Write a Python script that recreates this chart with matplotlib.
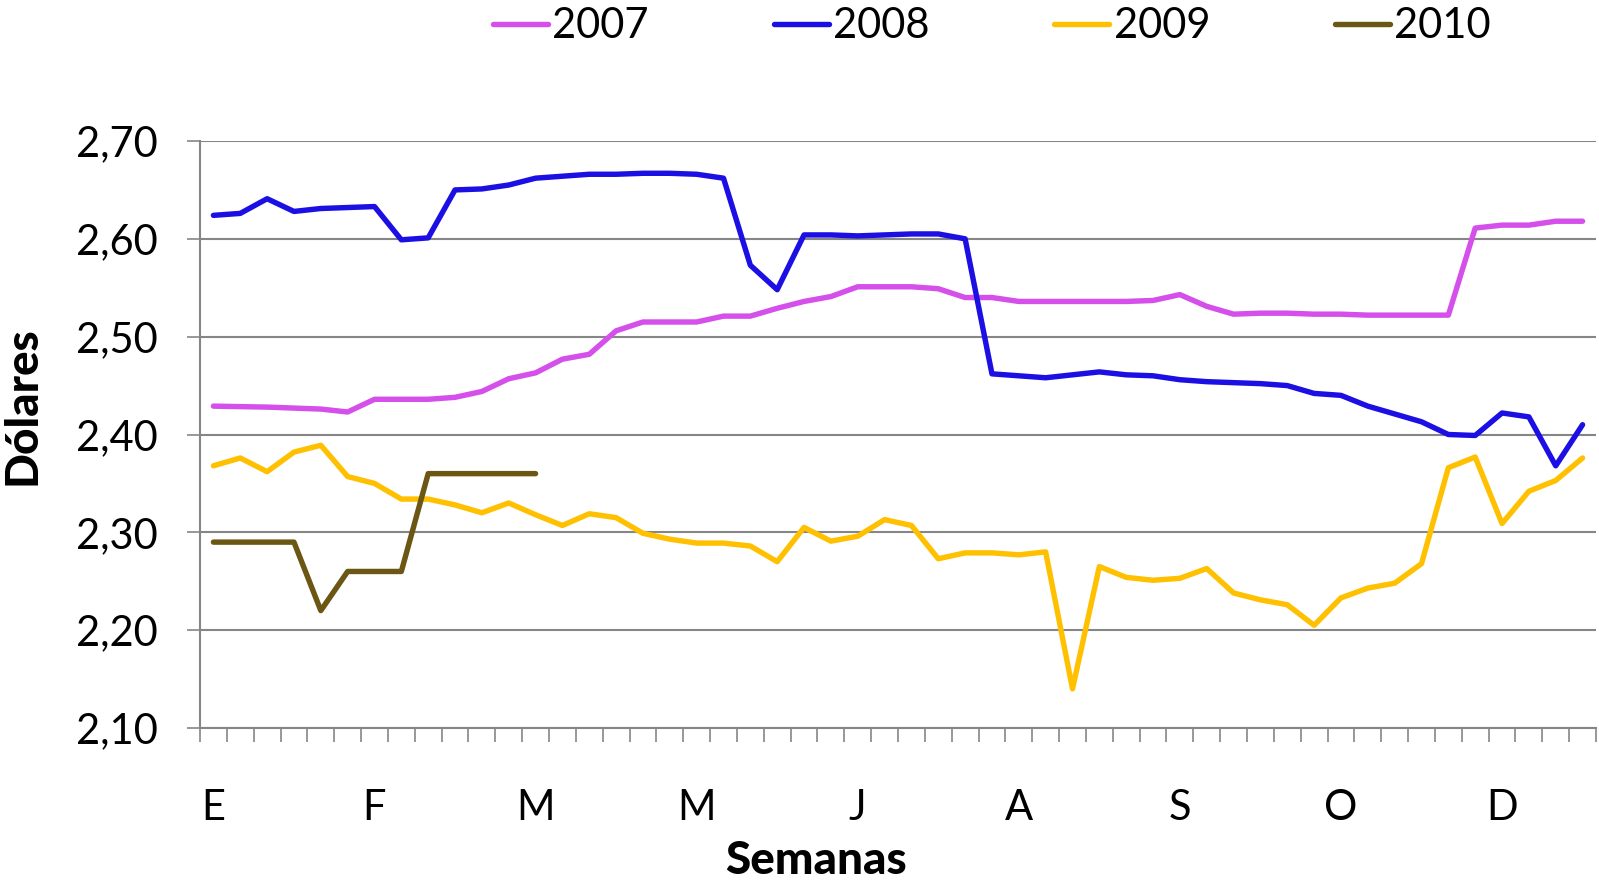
import matplotlib
matplotlib.use("Agg")
import matplotlib.pyplot as plt
import numpy as np

# ---- data ----
years = ["2007", "2008", "2009", "2010"]
v2007 = [2.429, 2.4285, 2.428, 2.427, 2.426, 2.423, 2.436, 2.436, 2.436, 2.438, 2.444, 2.457, 2.463,
         2.477, 2.482, 2.506, 2.515, 2.515, 2.515, 2.521, 2.521, 2.529, 2.536, 2.541, 2.551, 2.551,
         2.551, 2.549, 2.540, 2.540, 2.536, 2.536, 2.536, 2.536, 2.536, 2.537, 2.543, 2.531, 2.523,
         2.524, 2.524, 2.523, 2.523, 2.522, 2.522, 2.522, 2.522, 2.611, 2.614, 2.614, 2.618, 2.618]
v2008 = [2.624, 2.626, 2.641, 2.628, 2.631, 2.632, 2.633, 2.599, 2.601, 2.650, 2.651, 2.655, 2.662,
         2.664, 2.666, 2.666, 2.667, 2.667, 2.666, 2.662, 2.573, 2.548, 2.604, 2.604, 2.603, 2.604,
         2.605, 2.605, 2.600, 2.462, 2.460, 2.458, 2.461, 2.464, 2.461, 2.460, 2.456, 2.454, 2.453,
         2.452, 2.450, 2.442, 2.440, 2.429, 2.421, 2.413, 2.400, 2.399, 2.422, 2.418, 2.368, 2.410]
v2009 = [2.368, 2.376, 2.362, 2.382, 2.389, 2.357, 2.350, 2.334, 2.334, 2.328, 2.320, 2.330, 2.318,
         2.307, 2.319, 2.315, 2.299, 2.293, 2.289, 2.289, 2.286, 2.270, 2.305, 2.291, 2.296, 2.313,
         2.307, 2.273, 2.279, 2.279, 2.277, 2.280, 2.140, 2.265, 2.254, 2.251, 2.253, 2.263, 2.238,
         2.231, 2.226, 2.205, 2.233, 2.243, 2.248, 2.268, 2.366, 2.377, 2.309, 2.342, 2.353, 2.376]
v2010 = [2.29, 2.29, 2.29, 2.29, 2.22, 2.26, 2.26, 2.26, 2.36, 2.36, 2.36, 2.36, 2.36]

month_labels = ["E", "F", "M", "M", "J", "A", "S", "O", "D"]
month_pos = [0, 6, 12, 18, 24, 30, 36, 42, 48]
y_ticks = [2.10, 2.20, 2.30, 2.40, 2.50, 2.60, 2.70]
y_labels = ["2,10", "2,20", "2,30", "2,40", "2,50", "2,60", "2,70"]
n_weeks = 52

colors = ["#D54FEA", "#1C0FE4", "#FFC000", "#6B5614"]

plt.rcParams['font.family'] = ['Lato', 'DejaVu Sans']

fig = plt.figure(figsize=(15.99, 8.83), dpi=100)
ax = fig.add_axes([200/1599, 1 - 728/883, 1396/1599, 587/883])

series = [v2007, v2008, v2009, v2010]
for name, vals, c in zip(years, series, colors):
    ax.plot(np.arange(len(vals)), vals, color=c, lw=3.9, label=name,
            solid_capstyle='round', solid_joinstyle='round', zorder=3)

ax.set_xlim(-0.5, n_weeks - 0.5)
ax.set_ylim(2.10, 2.70)
ax.set_yticks(y_ticks)
ax.set_yticklabels(y_labels, fontsize=30)
ax.set_xticks(month_pos)
ax.set_xticklabels(month_labels, fontsize=30)
ax.set_xticks(np.arange(n_weeks + 1) - 0.5, minor=True)
ax.tick_params(axis='x', which='major', length=0, pad=44)
ax.tick_params(axis='x', which='minor', length=10, width=1.2, color='#868686')
ax.tick_params(axis='y', which='major', length=9.5, width=1.2, color='#868686', pad=21)

ax.grid(axis='y', color='#868686', lw=1.5, zorder=1)
for s in ['top', 'right']:
    ax.spines[s].set_visible(False)
for s in ['left', 'bottom']:
    ax.spines[s].set_color('#868686')
    ax.spines[s].set_linewidth(1.5)

ax.set_xlabel("Semanas", fontsize=33, fontweight='black')
ax.xaxis.set_label_coords(0.441, -0.2615)
ax.xaxis.label.set_va('bottom')
ax.set_ylabel("Dólares", fontsize=33, fontweight='black')
ax.yaxis.set_label_coords(-0.1275, 0.55)
ax.yaxis.label.set_va('center')

fig.legend(loc='center', bbox_to_anchor=(0.6204, 0.970), ncol=4, frameon=False,
           fontsize=30, handlelength=1.32, handletextpad=0.1, columnspacing=3.0,
           borderpad=0, borderaxespad=0)

fig.savefig("out.png", dpi=100)
